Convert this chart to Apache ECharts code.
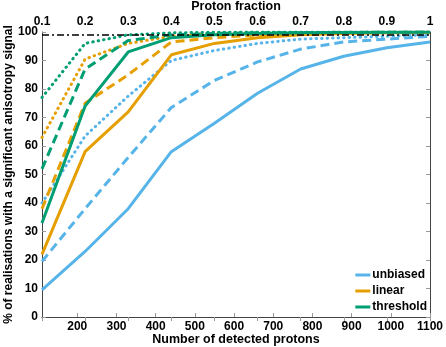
<!DOCTYPE html>
<html>
<head>
<meta charset="utf-8">
<script src="https://cdn.jsdelivr.net/npm/echarts@6/dist/echarts.min.js"></script>
<style>
  html, body { margin: 0; padding: 0; background: #fff; }
  #chart { width: 446px; height: 347px; }
</style>
</head>
<body>
<div id="chart"></div>
<script>
// number of detected protons (bottom axis) and proton fraction (top axis)
var protons = [110, 220, 330, 440, 550, 660, 770, 880, 990, 1100];
var bottomTicks = [200, 300, 400, 500, 600, 700, 800, 900, 1000, 1100];
var fractionTicks = [0.1, 0.2, 0.3, 0.4, 0.5, 0.6, 0.7, 0.8, 0.9, 1];
var refLevel = 99;

// % of realisations with a significant signal
var unbiasedSolid  = [9.5, 23, 38, 58, 68, 78.5, 87, 91.5, 94.5, 96.5];
var unbiasedDashed = [19.5, 38, 56, 73.5, 83, 89.5, 94, 96.5, 97.5, 98.5];
var unbiasedDotted = [40, 63.5, 77.5, 90, 93.5, 96, 97.5, 98, 98.5, 99];
var linearSolid    = [22, 58, 72, 92, 96, 98, 99, 99.5, 99.7, 99.8];
var linearDashed   = [38, 75, 85, 96.5, 98, 99, 99.5, 99.7, 99.8, 100];
var linearDotted   = [63, 90.5, 96, 98.5, 99.5, 99.7, 99.8, 99.9, 100, 100];
var thresholdSolid  = [33, 74, 93, 98, 99, 99.5, 99.7, 99.8, 99.9, 100];
var thresholdDashed = [52, 87, 97, 99, 99.5, 99.7, 99.8, 99.9, 100, 100];
var thresholdDotted = [77, 96, 99, 99.7, 99.9, 100, 100, 100, 100, 100];

var blue = '#56B4E9', orange = '#E69F00', green = '#009E73';
var font = 'Liberation Sans, Arial, sans-serif';
var dashed = [9, 5];
var dotted = [0.5, 5];

var chart = echarts.init(document.getElementById('chart'));

function pairs(ys) {
  return protons.map(function (x, i) { return [x, ys[i]]; });
}

function line(name, ys, color, type, z) {
  return {
    name: name,
    type: 'line',
    xAxisIndex: 0,
    yAxisIndex: 0,
    data: pairs(ys),
    symbol: 'none',
    z: z,
    lineStyle: { color: color, width: 3, type: type, cap: type === dotted ? 'round' : 'butt' },
    itemStyle: { color: color }
  };
}

var axisColor = '#444';
var labelStyle = { fontFamily: font, fontWeight: 'bold', fontSize: 12, color: '#000' };
var titleStyle = { fontFamily: font, fontWeight: 'bold', fontSize: 12.5, color: '#000' };

var option = {
  animation: false,
  textStyle: { fontFamily: font },
  grid: { left: 42, right: 16, top: 32, bottom: 30, outerBoundsMode: 'none', containLabel: false },
  legend: {
    data: ['unbiased', 'linear', 'threshold'],
    orient: 'vertical',
    right: 19,
    bottom: 34,
    itemGap: 4,
    itemWidth: 15,
    itemHeight: 3,
    icon: 'rect',
    padding: 0,
    textStyle: { fontFamily: font, fontWeight: 'bold', fontSize: 12, color: '#000', padding: [0, 0, 0, -3] }
  },
  xAxis: [{
    type: 'value',
    position: 'bottom',
    min: 110,
    max: 1100,
    name: 'Number of detected protons',
    nameLocation: 'middle',
    nameMoveOverlap: false,
    nameGap: 16,
    nameTextStyle: titleStyle,
    axisLine: { show: true, lineStyle: { color: axisColor } },
    axisTick: { inside: true, length: 4, customValues: bottomTicks, lineStyle: { color: '#999' } },
    axisLabel: Object.assign({ customValues: bottomTicks, margin: 4, formatter: function (v) { return String(v); } }, labelStyle),
    splitLine: { show: false }
  }, {
    type: 'value',
    position: 'top',
    min: 0.1,
    max: 1,
    name: 'Proton fraction',
    nameLocation: 'middle',
    nameMoveOverlap: false,
    nameGap: 19,
    nameTextStyle: titleStyle,
    axisLine: { show: true, lineStyle: { color: axisColor } },
    axisTick: { inside: true, length: 4, customValues: fractionTicks, lineStyle: { color: '#999' } },
    axisLabel: Object.assign({
      customValues: fractionTicks, margin: 4,
      formatter: function (v) { return String(Math.round(v * 10) / 10); }
    }, labelStyle),
    splitLine: { show: false }
  }],
  yAxis: [{
    type: 'value',
    position: 'left',
    min: 0,
    max: 100,
    interval: 10,
    name: '% of realisations with a significant anisotropy signal',
    nameLocation: 'middle',
    nameMoveOverlap: false,
    nameGap: 27,
    nameTextStyle: { fontFamily: font, fontWeight: 'bold', fontSize: 12, color: '#000' },
    axisLine: { show: true, lineStyle: { color: axisColor } },
    axisTick: { inside: true, length: 4, lineStyle: { color: '#999' } },
    axisLabel: Object.assign({ margin: 4 }, labelStyle),
    splitLine: { show: false }
  }, {
    type: 'value',
    position: 'right',
    min: 0,
    max: 100,
    interval: 10,
    axisLine: { show: true, lineStyle: { color: axisColor } },
    axisTick: { inside: true, length: 4, lineStyle: { color: '#999' } },
    axisLabel: { show: false },
    splitLine: { show: false }
  }],
  series: [
    line('unbiased', unbiasedSolid, blue, 'solid', 2),
    line('unbiased', unbiasedDashed, blue, dashed, 2),
    line('unbiased', unbiasedDotted, blue, dotted, 2),
    line('linear', linearSolid, orange, 'solid', 3),
    line('linear', linearDashed, orange, dashed, 3),
    line('linear', linearDotted, orange, dotted, 3),
    line('threshold', thresholdSolid, green, 'solid', 4),
    line('threshold', thresholdDashed, green, dashed, 4),
    line('threshold', thresholdDotted, green, dotted, 4),
    {
      name: 'reference',
      type: 'line',
      data: [],
      z: 5,
      markLine: {
        silent: true,
        symbol: 'none',
        label: { show: false },
        lineStyle: { color: '#000', width: 1.5, type: [7, 3, 2, 3] },
        data: [{ yAxis: refLevel }]
      }
    }
  ]
};

chart.setOption(option);
</script>
</body>
</html>
